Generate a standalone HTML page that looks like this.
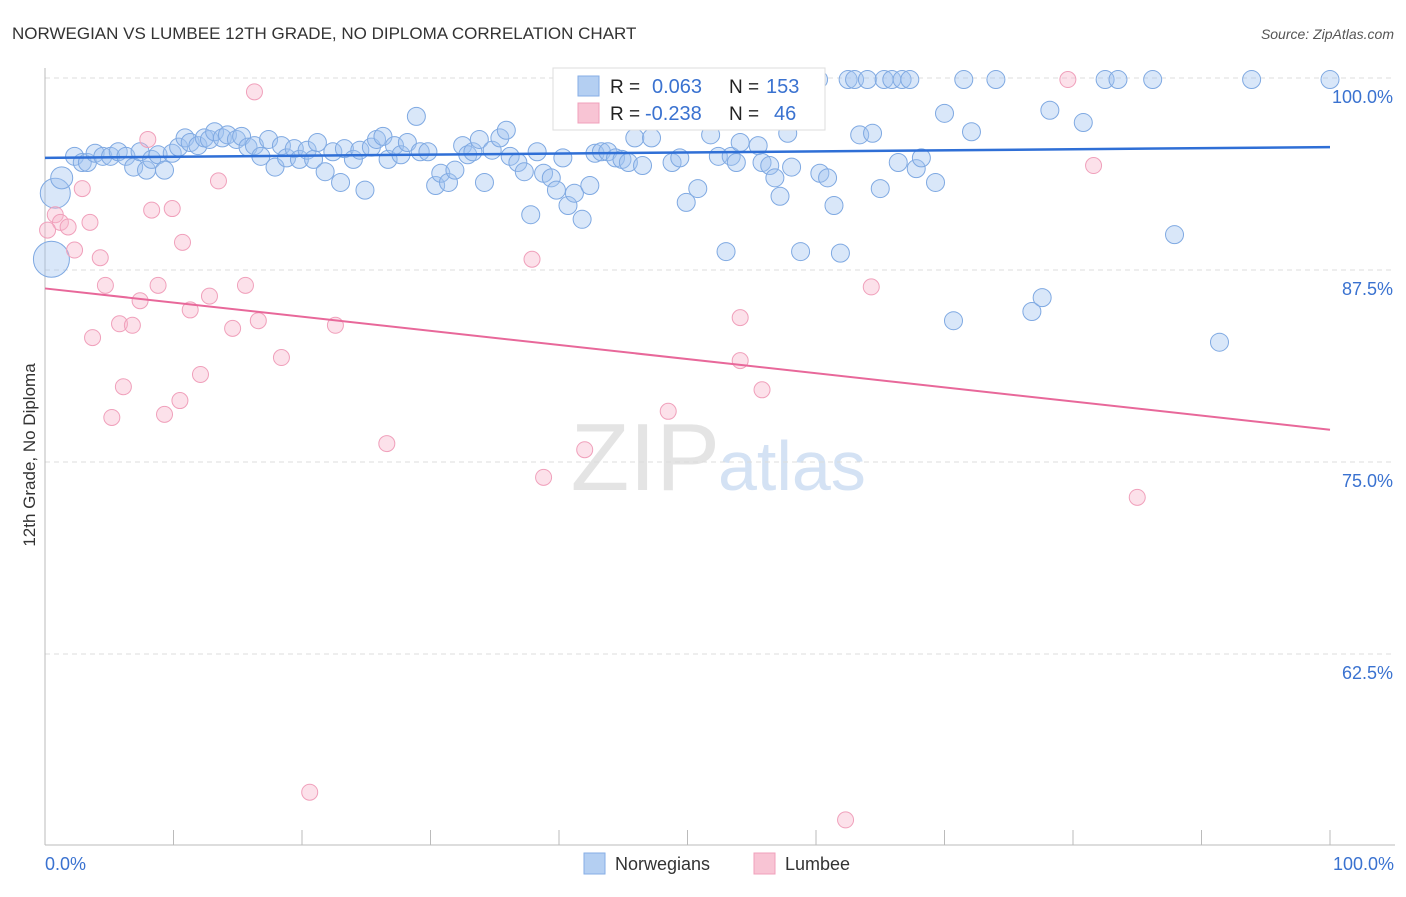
<!DOCTYPE html>
<html><head><meta charset="utf-8"><style>
body{margin:0;background:#fff;font-family:"Liberation Sans",sans-serif;}
svg text{font-family:"Liberation Sans",sans-serif;}
</style></head><body>
<svg id="chart" width="1406" height="892">
<text x="12" y="39" font-size="17" fill="#333">NORWEGIAN VS LUMBEE 12TH GRADE, NO DIPLOMA CORRELATION CHART</text>
<text x="1394" y="39" font-size="14" fill="#555" font-style="italic" text-anchor="end">Source: ZipAtlas.com</text>
<text x="720" y="490" font-size="96" fill="#e4e4e4" text-anchor="end" font-family="Liberation Serif">ZIP</text>
<text x="718" y="490" font-size="70" fill="#d4e2f4">atlas</text>
<text transform="translate(35,455) rotate(-90)" font-size="17" fill="#333" text-anchor="middle">12th Grade, No Diploma</text>
<g id="grid"></g><g id="marks"></g><g id="trends"></g>
<g>
<rect x="553" y="68" width="272" height="62" fill="#fff" stroke="#ddd"/>
<rect x="578" y="76" width="21" height="20" fill="#b4cff2" stroke="#86aee6"/>
<rect x="578" y="103" width="21" height="20" fill="#f8c4d4" stroke="#f0a0bb"/>
<text x="610" y="93" font-size="19" fill="#222">R = </text>
<text x="652" y="93" font-size="20" fill="#3a72d0">0.063</text>
<text x="729" y="93" font-size="19" fill="#222">N = </text>
<text x="766" y="93" font-size="20" fill="#3a72d0">153</text>
<text x="610" y="120" font-size="19" fill="#222">R = </text>
<text x="645" y="120" font-size="20" fill="#3a72d0">-0.238</text>
<text x="729" y="120" font-size="19" fill="#222">N = </text>
<text x="774" y="120" font-size="20" fill="#3a72d0">46</text>
</g>
<g>
<rect x="584" y="853" width="21" height="21" fill="#b4cff2" stroke="#86aee6"/>
<text x="615" y="870" font-size="18" fill="#333">Norwegians</text>
<rect x="754" y="853" width="21" height="21" fill="#f8c4d4" stroke="#f0a0bb"/>
<text x="785" y="870" font-size="18" fill="#333">Lumbee</text>
</g>
</svg>
<script>
const yTicks=[100,87.5,75,62.5];
const yTickLabels=["100.0%","87.5%","75.0%","62.5%"];
const xTickLabels=["0.0%","100.0%"];
const blueX=[2.3,2.9,3.3,3.9,4.5,5.1,5.7,6.3,6.9,7.4,7.9,8.3,8.8,9.3,9.9,10.4,10.9,11.3,11.9,12.4,12.8,13.2,13.8,14.2,14.9,15.3,15.8,16.3,16.8,17.4,17.9,18.4,18.8,19.4,19.8,20.4,20.9,21.2,21.8,22.4,23.0,23.3,24.0,24.5,24.9,25.4,25.8,26.3,26.7,27.2,27.7,28.2,28.9,29.2,29.8,30.4,30.8,31.4,31.9,32.5,32.9,33.3,33.8,34.2,34.8,35.4,35.9,36.2,36.8,37.3,37.8,38.3,38.8,39.4,39.8,40.3,40.7,41.2,41.8,42.4,42.8,43.3,43.8,44.4,44.9,45.4,45.9,46.5,47.1,47.2,48.8,49.4,49.9,50.8,51.8,52.4,53.0,53.4,53.8,54.1,54.7,55.5,55.8,56.4,56.8,57.2,57.8,58.1,58.8,60.2,60.3,60.9,61.4,61.9,62.5,63.0,63.4,64.0,64.4,65.0,65.3,65.9,66.4,66.7,67.3,67.8,68.2,69.3,70.0,70.7,71.5,72.1,74.0,76.8,77.6,78.2,80.8,82.5,83.5,86.2,87.9,91.4,93.9,100,0.8,0.5,1.3];
const blueY=[94.9,94.5,94.5,95.1,94.9,94.9,95.2,94.9,94.2,95.2,94.0,94.7,95.0,94.0,95.1,95.5,96.1,95.8,95.6,96.1,96.0,96.5,96.1,96.3,96.0,96.2,95.5,95.6,94.9,96.0,94.2,95.6,94.8,95.4,94.7,95.3,94.7,95.8,93.9,95.2,93.2,95.4,94.7,95.3,92.7,95.5,96.0,96.2,94.7,95.6,95.0,95.8,97.5,95.2,95.2,93.0,93.8,93.2,94.0,95.6,95.0,95.2,96.0,93.2,95.3,96.1,96.6,94.9,94.5,93.9,91.1,95.2,93.8,93.5,92.7,94.8,91.7,92.5,90.8,93.0,95.1,95.2,95.2,94.8,94.7,94.5,96.1,94.3,97.5,96.1,94.5,94.8,91.9,92.8,96.3,94.9,88.7,94.9,94.5,95.8,99.9,95.6,94.5,94.3,93.5,92.3,96.4,94.2,88.7,99.9,93.8,93.5,91.7,88.6,99.9,99.9,96.3,99.9,96.4,92.8,99.9,99.9,94.5,99.9,99.9,94.1,94.8,93.2,97.7,84.2,99.9,96.5,99.9,84.8,85.7,97.9,97.1,99.9,99.9,99.9,89.8,82.8,99.9,99.9,92.5,88.2,93.5];
const blueSize=blueX.map((v,i)=>i>=blueX.length-3?[15,18,11][i-(blueX.length-3)]:9);
const pinkX=[0.8,1.2,0.2,1.8,2.3,2.9,3.5,4.3,4.7,3.7,5.2,5.8,6.1,6.8,7.4,8.0,8.3,8.8,9.3,9.9,10.5,10.7,11.3,12.1,12.8,13.5,14.6,15.6,16.3,16.6,18.4,20.6,22.6,26.6,37.9,38.8,42.0,48.5,54.1,54.1,55.8,62.3,64.3,79.6,81.6,85.0];
const pinkY=[91.1,90.6,90.1,90.3,88.8,92.8,90.6,88.3,86.5,83.1,77.9,84.0,79.9,83.9,85.5,96.0,91.4,86.5,78.1,91.5,79.0,89.3,84.9,80.7,85.8,93.3,83.7,86.5,99.1,84.2,81.8,53.5,83.9,76.2,88.2,74.0,75.8,78.3,84.4,81.6,79.7,51.7,86.4,99.9,94.3,72.7];
const blueTrend=[94.8,95.5];
const pinkTrend=[86.3,77.1];
const NS="http://www.w3.org/2000/svg";
const xs=v=>45+v*12.85;
const ys=v=>78+(100-v)*15.36;
function mk(tag,attrs,parent){const e=document.createElementNS(NS,tag);for(const k in attrs)e.setAttribute(k,attrs[k]);parent.appendChild(e);return e;}
const grid=document.getElementById('grid');
yTicks.forEach((t,i)=>{
 const l=mk('line',{x1:45,x2:1395,y1:ys(t),y2:ys(t),stroke:'#ddd','stroke-dasharray':'5,4'},grid);
 
 
 const tx=mk('text',{x:1393,y:ys(t)+25,'font-size':18,fill:'#3a72d0','text-anchor':'end'},grid);
 tx.textContent=yTickLabels[i];
 
 
});
const ax=mk('line',{x1:45,x2:1395,y1:845,y2:845,stroke:'#bbb'},grid);


const ay=mk('line',{x1:45,x2:45,y1:68,y2:845,stroke:'#bbb'},grid);


for(let i=0;i<=10;i++){
 const t=mk('line',{x1:xs(i*10),x2:xs(i*10),y1:830,y2:845,stroke:'#bbb'},grid);
 
 
}
[[0,'start',45],[1,'end',1394]].forEach(([i,a,x])=>{
 const tx=mk('text',{x:x,y:870,'font-size':18,fill:'#3a72d0','text-anchor':a},grid);
 tx.textContent=xTickLabels[i];
 
 
});
const marks=document.getElementById('marks');
blueX.forEach((x,i)=>{
 const c=mk('circle',{cx:xs(x),cy:ys(blueY[i]),r:blueSize[i],fill:'rgba(160,196,240,0.4)',stroke:'#7fa9e2','stroke-width':1},marks);
 
 
});
pinkX.forEach((x,i)=>{
 const c=mk('circle',{cx:xs(x),cy:ys(pinkY[i]),r:8,fill:'rgba(247,180,202,0.4)',stroke:'#f0a0bb','stroke-width':1},marks);
 
 
});
const tr=document.getElementById('trends');
const bl=mk('line',{x1:xs(0),x2:xs(100),y1:ys(blueTrend[0]),y2:ys(blueTrend[1]),stroke:'#2f6fd6','stroke-width':2.5},tr);


const pl=mk('line',{x1:xs(0),x2:xs(100),y1:ys(pinkTrend[0]),y2:ys(pinkTrend[1]),stroke:'#e8689a','stroke-width':2},tr);


</script>
</body></html>
